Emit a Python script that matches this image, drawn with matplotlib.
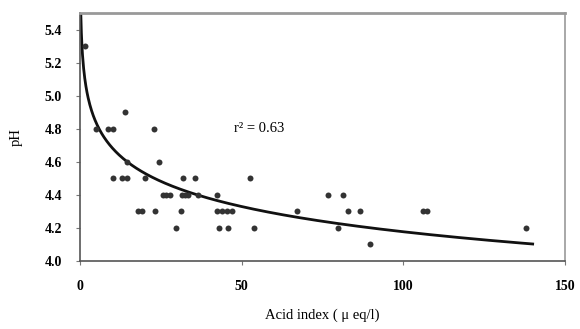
import numpy as np
import matplotlib
matplotlib.use("Agg")
import matplotlib.pyplot as plt

# data
acid_53 = [1.5]
acid_49 = [14]
acid_48 = [5, 8.8, 10.3, 23]
acid_46 = [14.4, 24.5]
acid_45 = [10.1, 13.0, 14.5, 20.1, 32, 35.6, 52.6]
acid_44 = [25.6, 26.6, 27.8, 31.4, 32.5, 33.5, 36.6, 42.3, 76.7, 81.4]
acid_43 = [18, 19.1, 23.2, 31.1, 42.3, 43.8, 45.4, 46.9, 67.2, 83, 86.6, 106, 107.3]
acid_42 = [29.6, 43.1, 45.7, 53.8, 79.8, 138]
acid_41 = [89.7]

groups = [(5.3, acid_53), (4.9, acid_49), (4.8, acid_48), (4.6, acid_46),
          (4.5, acid_45), (4.4, acid_44), (4.3, acid_43), (4.2, acid_42),
          (4.1, acid_41)]

# log trend line  pH = a - b*ln(x)
fit_a = 5.19
fit_b = 0.22
r2_text = "r\u00b2 = 0.63"

x = []
y = []
for ph, xs in groups:
    for v in xs:
        x.append(v)
        y.append(ph)

serif = ["Liberation Serif", "DejaVu Serif"]

fig = plt.figure(figsize=(5.8, 3.29), dpi=100)
ax = fig.add_axes([80/580, (329-261)/329, 485/580, 248/329])

xx = np.linspace(0.25, 140, 800)
ax.plot(xx, fit_a - fit_b*np.log(xx), color="#111111", lw=2)
ax.plot(x, y, "o", color="#333333", ms=4.3, mec="none")

ax.text(47.5, 4.8, r2_text, fontsize=10.5, family=serif, va="center")

ax.set_xlim(0, 150)
ax.set_ylim(4.0, 5.5)
ax.set_xticks([0, 50, 100, 150])
ax.set_yticks(np.arange(4.0, 5.41, 0.2))
ax.set_yticklabels(["%.1f" % t for t in np.arange(4.0, 5.41, 0.2)])
for lab in ax.get_xticklabels() + ax.get_yticklabels():
    lab.set_family(serif)
    lab.set_fontweight("bold")
    lab.set_fontsize(10)
ax.tick_params(length=3, width=0.8, color="#777777")
ax.tick_params(axis="y", pad=10)
ax.tick_params(axis="x", pad=11)

for s in ax.spines.values():
    s.set_color("#555555")
    s.set_linewidth(1.2)
ax.spines["top"].set_color("#999999")
ax.spines["top"].set_linewidth(2)
ax.spines["right"].set_color("#999999")

ax.set_xlabel("Acid index ( \u03bc eq/l)", family=serif, fontsize=10.5, labelpad=11)
ax.set_ylabel("pH", family=serif, fontsize=10.5, labelpad=16)

fig.savefig("out.png", dpi=100)
